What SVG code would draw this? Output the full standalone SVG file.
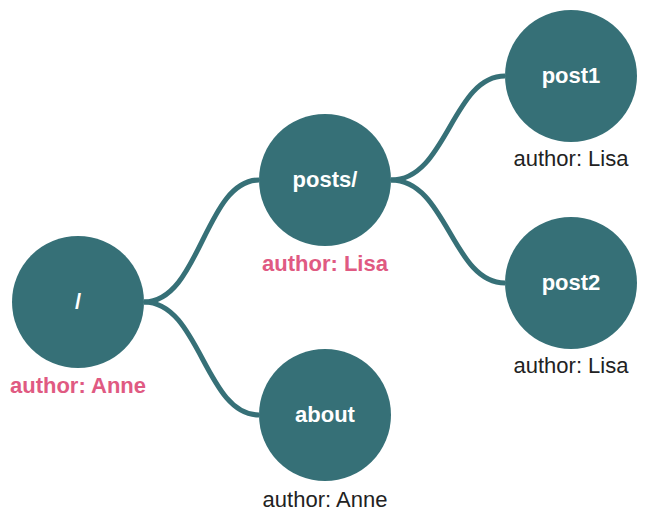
<svg xmlns="http://www.w3.org/2000/svg" width="650" height="516" viewBox="0 0 650 516">
<style>
.n{fill:#367077}
.c{fill:none;stroke:#367077;stroke-width:5}
.t{font-family:"Liberation Sans",Arial,sans-serif;font-size:22px;font-weight:bold;fill:#fff;text-anchor:middle}
.a{font-family:"Liberation Sans",Arial,sans-serif;font-size:22px;fill:#222;text-anchor:middle}
.p{font-family:"Liberation Sans",Arial,sans-serif;font-size:22px;font-weight:bold;fill:#e05a82;text-anchor:middle}
</style>
<rect width="650" height="516" fill="#fff"/>
<g id="connectors">
<path class="c" d="M144,302 C200,302 205,180 259,180"/>
<path class="c" d="M144,302 C200,302 205,415 259,415"/>
<path class="c" d="M391,180 C447,180 452,76 505,76"/>
<path class="c" d="M391,180 C447,180 452,283 505,283"/>
</g>
<g id="root">
<circle class="n" cx="78" cy="302" r="66"/>
<text class="t" x="78" y="309">/</text>
<text class="p" x="78" y="393">author: Anne</text>
</g>
<g id="posts">
<circle class="n" cx="325" cy="180" r="66"/>
<text class="t" x="325" y="187">posts/</text>
<text class="p" x="325" y="271">author: Lisa</text>
</g>
<g id="about">
<circle class="n" cx="325" cy="415" r="66"/>
<text class="t" x="325" y="422">about</text>
<text class="a" x="325" y="507">author: Anne</text>
</g>
<g id="post1">
<circle class="n" cx="571" cy="76" r="66"/>
<text class="t" x="571" y="83">post1</text>
<text class="a" x="571" y="166">author: Lisa</text>
</g>
<g id="post2">
<circle class="n" cx="571" cy="283" r="66"/>
<text class="t" x="571" y="290">post2</text>
<text class="a" x="571" y="373">author: Lisa</text>
</g>
</svg>
